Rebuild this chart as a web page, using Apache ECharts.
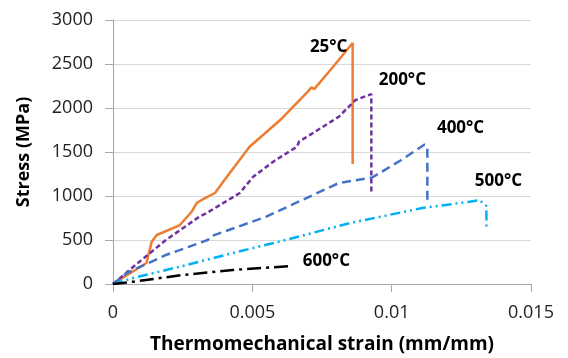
<!DOCTYPE html>
<html><head><meta charset="utf-8">
<script src="https://cdn.jsdelivr.net/npm/echarts@6/dist/echarts.min.js"></script>
<style>html,body{margin:0;padding:0;background:#fff}#c{width:568px;height:358px}</style>
</head><body><div id="c"></div>
<script>
// Data (strain mm/mm, stress MPa)
const strain25 = [0, 0.0005, 0.0012, 0.00139, 0.00157, 0.0024, 0.00282, 0.0030, 0.0033, 0.00366, 0.0040, 0.0049, 0.0060, 0.0070, 0.00712, 0.00722, 0.0079, 0.0086, 0.0086];
const stress25 = [0, 100, 238, 481, 557, 670, 821, 920, 975, 1034, 1181, 1560, 1863, 2190, 2235, 2215, 2469, 2738, 1363];

const strain200 = [0, 0.00072, 0.0019, 0.0031, 0.00336, 0.00455, 0.00503, 0.0058, 0.0066, 0.00668, 0.0071, 0.0081, 0.0087, 0.00927, 0.00927];
const stress200 = [0, 193, 500, 765, 806, 1034, 1219, 1400, 1560, 1620, 1700, 1900, 2090, 2158, 1050];

const strain400 = [0, 0.0005, 0.0019, 0.0034, 0.0035, 0.0055, 0.0081, 0.0093, 0.0103, 0.01118, 0.01128, 0.01128];
const stress400 = [0, 125, 330, 500, 540, 765, 1147, 1210, 1400, 1585, 1560, 935];

const strain500 = [0, 0.00072, 0.0024, 0.0043, 0.0062, 0.0085, 0.0096, 0.0111, 0.0128, 0.01315, 0.0134, 0.0134];
const stress500 = [0, 68, 197, 352, 500, 693, 765, 863, 935, 954, 886, 651];

const strain600 = [0, 0.00072, 0.0025, 0.0043, 0.0064];
const stress600 = [0, 26, 102, 159, 204];

const seriesNames = ['25°C', '200°C', '400°C', '500°C', '600°C'];
const xTicks = [0, 0.005, 0.01, 0.015];
const yTicks = [0, 500, 1000, 1500, 2000, 2500, 3000];

const zip = (a, b) => a.map((v, i) => [v, b[i]]);
const peak = (a, b) => { let k = 0; b.forEach((v, i) => { if (v > b[k]) k = i; }); return [a[k], b[k]]; };

const FONT = 'Open Sans';
const labelStyle = { color: '#000', fontFamily: FONT, fontWeight: 'bold', fontSize: 17 };

function mk(name, xs, ys, color, dash, offset, width) {
  return {
    name, type: 'line', data: zip(xs, ys), showSymbol: false, symbol: 'none', animation: false,
    lineStyle: { color, width: width || 2.5, type: dash, cap: 'butt' },
    markPoint: {
      symbol: 'circle', symbolSize: 0, animation: false,
      data: [{ coord: peak(xs, ys), label: Object.assign({ show: true, position: 'inside', formatter: name, offset }, labelStyle) }]
    }
  };
}

const chart = echarts.init(document.getElementById('c'));
chart.setOption({
  animation: false,
  grid: { left: 113, right: 37, top: 20, bottom: 74, containLabel: false, outerBoundsMode: 'none' },
  xAxis: {
    type: 'value', min: 0, max: 0.015, interval: 0.005,
    name: 'Thermomechanical strain (mm/mm)', nameLocation: 'middle', nameGap: 51,
    nameTextStyle: { fontFamily: FONT, fontWeight: 'bold', fontSize: 19, color: '#000' },
    axisLine: { show: true, lineStyle: { color: '#a6a6a6', width: 1 } },
    axisTick: { show: true, length: 8, lineStyle: { color: '#a6a6a6' } },
    axisLabel: { margin: 20, fontFamily: FONT, fontSize: 18, color: '#222', formatter: v => String(+v.toFixed(3)) },
    splitLine: { show: false }
  },
  yAxis: {
    type: 'value', min: 0, max: 3000, interval: 500,
    name: 'Stress (MPa)', nameLocation: 'middle', nameGap: 80,
    nameTextStyle: { fontFamily: FONT, fontWeight: 'bold', fontSize: 18, color: '#000' },
    axisLine: { show: true, lineStyle: { color: '#a6a6a6', width: 1 } },
    axisTick: { show: true, length: 8, lineStyle: { color: '#a6a6a6' } },
    axisLabel: { margin: 20, fontFamily: FONT, fontSize: 18, color: '#222', formatter: v => String(v) },
    splitLine: { show: true, lineStyle: { color: '#d9d9d9', width: 1 } }
  },
  series: [
    mk(seriesNames[0], strain25, stress25, '#ED7D31', 'solid', [-24, 4]),
    mk(seriesNames[1], strain200, stress200, '#7030A0', [5, 3], [31, -14]),
    mk(seriesNames[2], strain400, stress400, '#4472C4', [9, 5], [36, -16]),
    mk(seriesNames[3], strain500, stress500, '#00B0F0', [10, 4, 2, 4, 2, 4], [19, -19]),
    mk(seriesNames[4], strain600, stress600, '#000000', [14, 5, 3, 5], [35, -5])
  ]
});
</script>
</body></html>
